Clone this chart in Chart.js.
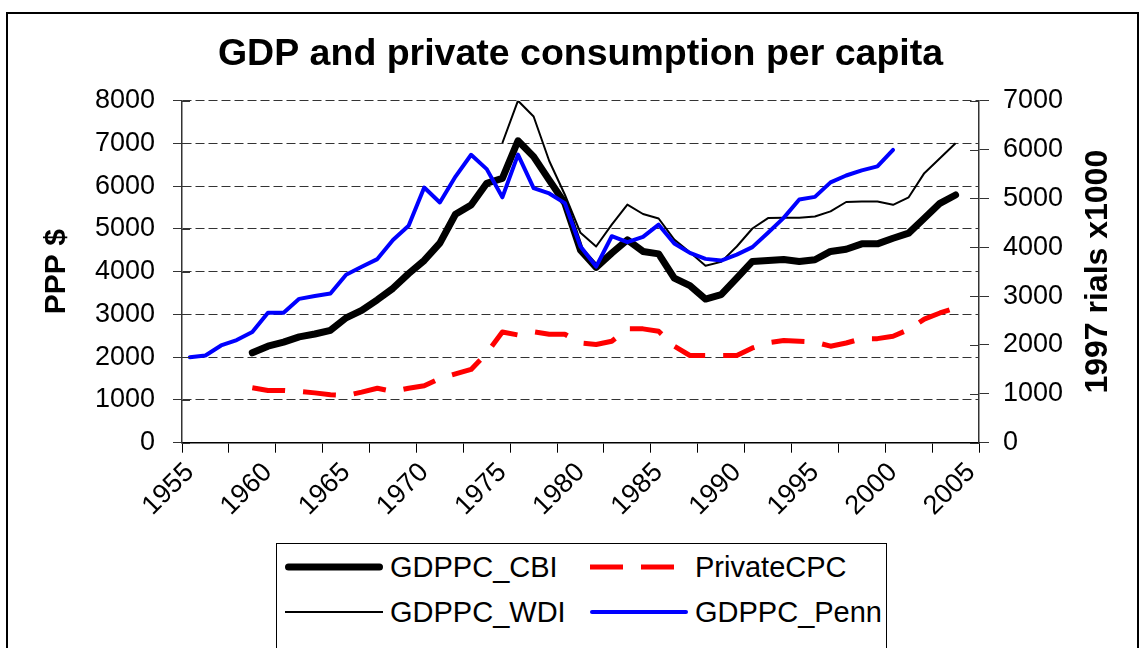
<!DOCTYPE html>
<html>
<head>
<meta charset="utf-8">
<script src="https://cdn.jsdelivr.net/npm/chart.js@4.4.0/dist/chart.umd.min.js"></script>
<style>
  body { margin: 0; background: #fff; }
  #wrap { position: relative; width: 1145px; height: 648px; overflow: hidden; font-family: "Liberation Sans", Arial, sans-serif; }
  #myCanvas { position: absolute; left: 0; top: 0; }
  #frame { position: absolute; left: 6px; top: 12px; width: 1129px; height: 700px; border: 2px solid #000; }
  #legend { position: absolute; left: 276px; top: 543px; width: 609px; height: 110px; border: 1px solid #000; background: #fff; }
  .item { position: absolute; display: flex; align-items: center; height: 40px; font-size: 29px; color: #000; }
  .item svg { margin-right: 7px; }
</style>
</head>
<body>
<div id="wrap">
  <div id="frame"></div>
  <canvas id="myCanvas" width="1145" height="648"></canvas>
  <div id="legend"></div>
</div>
<script>
const FONT = '"Liberation Sans", Arial, sans-serif';

// categories
const years = ["1955","1956","1957","1958","1959","1960","1961","1962","1963","1964",
  "1965","1966","1967","1968","1969","1970","1971","1972","1973","1974",
  "1975","1976","1977","1978","1979","1980","1981","1982","1983","1984",
  "1985","1986","1987","1988","1989","1990","1991","1992","1993","1994",
  "1995","1996","1997","1998","1999","2000","2001","2002","2003","2004","2005"];
const shownYears = ["1955","1960","1965","1970","1975","1980","1985","1990","1995","2000","2005"];

// right axis (1997 rials x1000)
const gdppcCBI = [null,null,null,null,1840,1975,2060,2165,2225,2300,
  2555,2710,2925,3160,3460,3730,4085,4675,4865,5310,
  5410,6180,5855,5375,4900,3940,3590,3880,4150,3915,
  3865,3370,3215,2940,3030,3370,3710,3730,3750,3710,
  3745,3915,3960,4070,4070,4185,4290,4595,4900,5070,null];
const privateCPC = [null,null,null,null,1125,1070,1070,1050,1020,980,
  965,1035,1115,1050,1115,1165,1315,1410,1500,1835,
  2265,2205,2270,2220,2220,2040,2010,2075,2330,2330,
  2280,1975,1785,1785,1785,1785,1940,2045,2090,2075,
  2060,1975,2040,2130,2130,2180,2315,2530,2655,2760,null];

// left axis (PPP $)
const gdppcWDI = [null,null,null,null,null,null,null,null,null,null,
  null,null,null,null,null,null,null,null,null,null,
  7010,8000,7630,6590,5800,4910,4590,5100,5570,5350,
  5245,4750,4455,4140,4230,4590,5010,5255,5260,5260,
  5290,5410,5630,5640,5640,5565,5740,6305,6655,7005,null];
const gdppcPenn = [2000,2040,2275,2400,2590,3040,3040,3365,3430,3490,
  3930,4115,4295,4740,5075,5970,5620,6225,6735,6400,
  5740,6740,5955,5830,5605,4590,4120,4830,4690,4815,
  5100,4660,4440,4300,4260,4400,4575,4910,5260,5690,
  5750,6090,6250,6370,6465,6850,null,null,null,null,null];

const innerTicks = {
  id: 'innerTicks',
  afterDraw(chart) {
    const ctx = chart.ctx;
    const area = chart.chartArea;
    ctx.save();
    ctx.strokeStyle = '#333';
    ctx.lineWidth = 1;
    const l = chart.scales.y, r = chart.scales.y1;
    l.ticks.forEach(t => {
      const y = Math.round(l.getPixelForValue(t.value)) + 0.5;
      ctx.beginPath(); ctx.moveTo(area.left, y); ctx.lineTo(area.left + 8, y); ctx.stroke();
    });
    r.ticks.forEach(t => {
      const y = Math.round(r.getPixelForValue(t.value)) + 0.5;
      ctx.beginPath(); ctx.moveTo(area.right - 9, y); ctx.lineTo(area.right, y); ctx.stroke();
    });
    // right axis title, reading bottom to top
    ctx.fillStyle = '#000';
    ctx.font = 'bold 32px ' + FONT;
    ctx.textAlign = 'center';
    ctx.textBaseline = 'middle';
    ctx.translate(1098, (area.top + area.bottom) / 2);
    ctx.rotate(-Math.PI / 2);
    ctx.fillText('1997 rials x1000', 0, 0);
    ctx.restore();
  }
};

const plain = v => String(v);

const chart = new Chart(document.getElementById('myCanvas'), {
  type: 'line',
  data: {
    labels: years,
    datasets: [
      { label: 'GDPPC_CBI', data: gdppcCBI, yAxisID: 'y1', borderColor: '#000000', borderWidth: 7,
        borderCapStyle: 'round', borderJoinStyle: 'round', pointRadius: 0, order: 4 },
      { label: 'PrivateCPC', data: privateCPC, yAxisID: 'y1', borderColor: '#FF0000', borderWidth: 5,
        borderDash: [33, 18], borderCapStyle: 'butt', borderJoinStyle: 'round', pointRadius: 0, order: 3 },
      { label: 'GDPPC_WDI', data: gdppcWDI, yAxisID: 'y', borderColor: '#000000', borderWidth: 2,
        borderJoinStyle: 'round', pointRadius: 0, order: 2 },
      { label: 'GDPPC_Penn', data: gdppcPenn, yAxisID: 'y', borderColor: '#0000FF', borderWidth: 4,
        borderCapStyle: 'round', borderJoinStyle: 'round', pointRadius: 0, order: 1 }
    ]
  },
  options: {
    responsive: false,
    animation: false,
    layout: { padding: 0 },
    plugins: {
      legend: { display: false },
      tooltip: { enabled: false },
      title: {
        display: true,
        fullSize: false,
        text: 'GDP and private consumption per capita',
        color: '#000',
        font: { family: FONT, size: 37.5, weight: 'bold', lineHeight: 1.2 },
        padding: { top: 32, bottom: 23.7 }
      }
    },
    scales: {
      x: {
        offset: true,
        grid: {
          offset: true,
          drawOnChartArea: false,
          tickLength: 10,
          color: ctx => (ctx.index === undefined || ctx.index % 3 === 0) ? '#000' : 'rgba(0,0,0,0)'
        },
        border: { display: true, color: '#000', width: 1.5 },
        ticks: {
          autoSkip: false,
          minRotation: 45,
          maxRotation: 45,
          padding: 4,
          color: '#000',
          font: { family: FONT, size: 27 },
          callback: function (value, index) {
            return shownYears.includes(years[index]) ? years[index] : '';
          }
        },
        afterFit: s => { s.height = 648 - 442.7; }
      },
      y: {
        position: 'left',
        min: 0,
        max: 8000,
        ticks: { stepSize: 1000, padding: 18, color: '#000', font: { family: FONT, size: 27 }, callback: plain },
        grid: { color: '#333', lineWidth: 1, tickLength: 9 },
        border: { display: true, color: '#333', width: 1.5, dash: [9, 4] },
        title: {
          display: true, text: 'PPP $', color: '#000',
          font: { family: FONT, size: 30, weight: 'bold', lineHeight: 1.2 },
          padding: { top: 39, bottom: 0 }
        },
        afterFit: s => { s.width = 182; }
      },
      y1: {
        position: 'right',
        min: 0,
        max: 7000,
        ticks: { stepSize: 1000, padding: 14, color: '#000', font: { family: FONT, size: 27 }, callback: plain },
        grid: { drawOnChartArea: false, color: '#333', tickLength: 10 },
        border: { display: true, color: '#333', width: 1.5 },
        afterFit: s => { s.width = 1145 - 979; }
      }
    }
  },
  plugins: [innerTicks]
});

// legend built from the datasets, two columns
const legend = document.getElementById('legend');
const cols = [8, 313];
const rows = [3, 48];
chart.data.datasets.forEach((ds, i) => {
  const item = document.createElement('div');
  item.className = 'item';
  item.style.left = cols[i % 2] + 'px';
  item.style.top = rows[Math.floor(i / 2)] + 'px';
  const w = 98;
  const dash = ds.borderDash ? ds.borderDash.join(',') : 'none';
  const cap = ds.borderCapStyle === 'round' ? 'round' : 'butt';
  const pad = cap === 'round' ? ds.borderWidth / 2 : 0;
  item.innerHTML = '<svg width="' + w + '" height="20"><line x1="' + pad + '" y1="10" x2="' + (w - pad) +
    '" y2="10" stroke="' + ds.borderColor + '" stroke-width="' + ds.borderWidth + '" stroke-linecap="' + cap +
    '" stroke-dasharray="' + dash + '"/></svg><span>' + ds.label + '</span>';
  legend.appendChild(item);
});
</script>
</body>
</html>
